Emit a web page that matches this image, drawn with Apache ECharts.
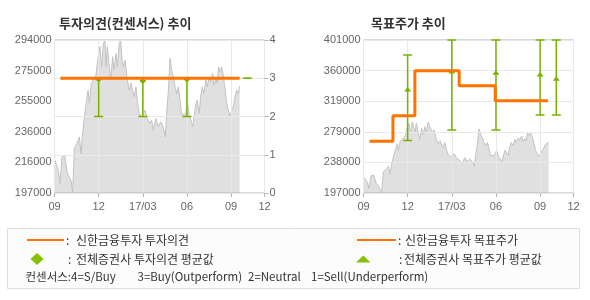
<!DOCTYPE html>
<html><head><meta charset="utf-8">
<script src="https://cdn.jsdelivr.net/npm/echarts@6/dist/echarts.min.js"></script>
<style>html,body{margin:0;padding:0;background:#fff}#c{width:590px;height:300px}</style>
</head><body><div id="c"></div>
<script>
// ---- x axis: months since 2016-09 ----
const xTickMonths = [0, 3, 6, 9, 12, 14.27];
const xTickLabels = ['09', '12', '17/03', '06', '09', '12'];

// ---- stock price (same series in both panels) ----
const priceMonth = [0.03,0.26,0.37,0.51,0.69,0.87,1.01,1.12,1.23,1.35,1.51,1.69,1.80,1.91,2.09,2.28,2.37,2.50,2.64,2.82,2.98,3.09,3.20,3.32,3.43,3.50,3.59,3.72,3.82,3.95,4.04,4.18,4.27,4.40,4.50,4.59,4.68,4.79,4.95,5.08,5.20,5.31,5.40,5.54,5.65,5.76,5.92,6.15,6.31,6.49,6.60,6.72,6.88,7.05,7.21,7.39,7.53,7.62,7.74,7.85,7.96,8.08,8.19,8.31,8.42,8.53,8.64,8.75,8.91,9.05,9.16,9.25,9.39,9.48,9.61,9.70,9.84,9.93,10.04,10.16,10.29,10.38,10.52,10.61,10.74,10.84,10.97,11.06,11.15,11.24,11.36,11.47,11.58,11.70,11.81,11.92,12.03,12.15,12.27,12.38,12.50,12.58];
const priceValue = [217800,211400,203000,219900,220900,209300,207000,205000,197600,225200,228300,232600,222000,234800,249500,262200,253800,266500,268600,271800,284500,289800,277000,291900,294000,277000,289800,277000,268600,283400,275000,285500,277000,291900,294000,281300,277000,281300,268600,262200,266500,265400,258000,264300,253800,247400,245300,249500,244200,241000,243100,236800,244200,239000,242100,239000,232600,247400,262200,282400,275000,270700,264300,260100,264300,255900,246300,245300,247400,253800,246300,244200,239000,245300,253800,255900,247400,258000,264300,260100,268600,264300,270700,267500,272800,265400,269600,266500,277000,273900,277000,271800,263300,253800,249500,245300,249500,251700,258000,262200,260100,264800];

// ---- left panel: opinion (1..4) ----
const leftPriceTicks = [197000, 216400, 235800, 255200, 274600, 294000];
const opinionMonth = [0.4, 12.58];
const opinionValue = [3, 3];
const consMonth = [3, 6, 9, 13.1];
const consMin = [2, 2, 2, 3];
const consMax = [2.97, 2.93, 2.97, 3];
const consAvg = [2.97, 2.93, 2.97, null];

// ---- right panel: target price ----
const rightPriceTicks = [197000, 237800, 278600, 319400, 360200, 401000];
const targetMonth = [0.41, 2.0, 3.49, 6.5, 8.95, 12.53];
const targetValue = [266000, 300000, 360000, 340000, 320000, 320000];
const tpMonth = [3, 6, 9, 12, 13.1];
const tpMin = [267000, 281000, 281000, 301000, 301000];
const tpMax = [381000, 401000, 401000, 401000, 401000];
const tpAvg = [335000, 359000, 357500, 355000, 349500];

const ORANGE = '#ff7300', GREEN = '#74b300', AXIS = '#b4b4b4', GRIDC = '#e9e9e9';
const LBL = {color:'#666', fontSize:11, fontFamily:'Liberation Sans, Arial'};
const CJK = 'Noto Sans CJK KR';

const zip = (a, b) => a.map((v, i) => [v, b[i]]);
const price = zip(priceMonth, priceValue);

function xAxisFor(gi) {
  return {
    gridIndex: gi, type: 'value', min: 0, max: xTickMonths[xTickMonths.length - 1], interval: 3, z: 3,
    axisLine: {show: false},
    axisTick: {show: true, length: 4, lineStyle: {color: AXIS}},
    axisLabel: Object.assign({}, LBL, {margin: 8, showMinLabel: true, showMaxLabel: true,
      formatter: v => { const i = xTickMonths.findIndex(m => Math.abs(m - v) < 0.01); return i < 0 ? '' : xTickLabels[i]; }}),
    splitLine: {show: true, lineStyle: {color: GRIDC, width: 1}}
  };
}

function errRender(capLo, capHi, marker) {
  return function (params, api) {
    const x = api.value(0), lo = api.value(1), hi = api.value(2), avg = api.value(3);
    const a = api.coord([x, lo]), b = api.coord([x, hi]);
    const st = {stroke: GREEN, lineWidth: 1.5};
    const ch = [
      {type: 'line', shape: {x1: a[0], y1: a[1], x2: b[0], y2: b[1]}, style: st},
      {type: 'line', shape: {x1: a[0] - capLo / 2, y1: a[1], x2: a[0] + capLo / 2, y2: a[1]}, style: st},
      {type: 'line', shape: {x1: b[0] - capHi / 2, y1: b[1], x2: b[0] + capHi / 2, y2: b[1]}, style: st}
    ];
    if (avg != null && !isNaN(avg)) {
      const p = api.coord([x, avg]);
      const pts = marker === 'diamond'
        ? [[p[0], p[1] - 3], [p[0] + 3, p[1]], [p[0], p[1] + 3], [p[0] - 3, p[1]]]
        : [[p[0] - 3.5, p[1] + 2], [p[0] + 3.5, p[1] + 2], [p[0], p[1] - 2.5]];
      ch.push({type: 'polygon', shape: {points: pts}, style: {fill: GREEN}});
    }
    return {type: 'group', children: ch};
  };
}

const chart = echarts.init(document.getElementById('c'), null, {renderer: 'canvas'});

const legendItems = [
  {type: 'rect', shape: {x: 7.5, y: 228.5, width: 572, height: 60}, style: {fill: '#fcfcfc', stroke: '#dddddd', lineWidth: 1}},
  {type: 'line', shape: {x1: 27, y1: 240, x2: 64, y2: 240}, style: {stroke: ORANGE, lineWidth: 2}},
  {type: 'polygon', shape: {points: [[37, 253], [43.5, 259], [37, 265], [30.5, 259]]}, style: {fill: '#84c200'}},
  {type: 'line', shape: {x1: 357, y1: 240, x2: 396, y2: 240}, style: {stroke: ORANGE, lineWidth: 2}},
  {type: 'polygon', shape: {points: [[356, 262.5], [370.5, 262.5], [363.3, 255.5]]}, style: {fill: '#84c200'}}
];
const legendTexts = [
  [66, 240, ':', 12], [76, 240, '신한금융투자 투자의견', 12],
  [68, 259, ':', 12], [76, 259, '전체증권사 투자의견 평균값', 12],
  [398, 240, ':', 12], [405, 240, '신한금융투자 목표주가', 12],
  [399, 259, ':', 12], [404, 259, '전체증권사 목표주가 평균값', 12],
  [25.5, 277, '컨센서스:4=S/Buy', 11.5], [137.5, 277, '3=Buy(Outperform)', 11.5],
  [248, 277, '2=Neutral', 11.5], [311, 277, '1=Sell(Underperform)', 11.5]
];
legendTexts.forEach(t => legendItems.push({type: 'text', x: t[0], y: t[1],
  style: {text: t[2], fill: '#333', font: t[3] + 'px "' + CJK + '"', textVerticalAlign: 'middle', verticalAlign: 'middle'}}));

chart.setOption({
  animation: false,
  backgroundColor: '#fff',
  title: [
    {text: '투자의견(컨센서스) 추이', left: 54, top: 12, textStyle: {fontSize: 13, fontWeight: 'bold', color: '#333', fontFamily: CJK}},
    {text: '목표주가 추이', left: 366, top: 12, textStyle: {fontSize: 13, fontWeight: 'bold', color: '#333', fontFamily: CJK}}
  ],
  grid: [
    {left: 54.5, top: 40, width: 210, height: 153, show: true, borderColor: AXIS, borderWidth: 1, backgroundColor: 'transparent', z: 3},
    {left: 363.5, top: 40, width: 210, height: 153, show: true, borderColor: AXIS, borderWidth: 1, backgroundColor: 'transparent', z: 3}
  ],
  xAxis: [xAxisFor(0), xAxisFor(1)],
  yAxis: [
    {gridIndex: 0, type: 'value', min: 197000, max: 294000, z: 3, axisLine: {show: false}, axisTick: {show: false},
      axisLabel: Object.assign({}, LBL, {margin: 3, customValues: leftPriceTicks, formatter: v => String(Math.round(v / 1000) * 1000)}),
      splitLine: {show: false}},
    {gridIndex: 0, type: 'value', position: 'right', min: 0, max: 4, interval: 1, z: 3,
      axisLine: {show: false}, axisTick: {show: true, length: 4, lineStyle: {color: AXIS}},
      axisLabel: Object.assign({}, LBL, {margin: 5}),
      splitLine: {show: true, lineStyle: {color: GRIDC, width: 1}}},
    {gridIndex: 1, type: 'value', min: 197000, max: 401000, z: 3, axisLine: {show: false},
      axisTick: {show: false, customValues: rightPriceTicks},
      axisLabel: Object.assign({}, LBL, {margin: 3, customValues: rightPriceTicks, formatter: v => String(Math.round(v / 1000) * 1000)}),
      splitLine: {show: true, lineStyle: {color: GRIDC, width: 1}}}
  ],
  series: [
    {type: 'line', xAxisIndex: 0, yAxisIndex: 0, data: price, symbol: 'none', z: 1,
      lineStyle: {color: '#c2c2c2', width: 1}, areaStyle: {color: '#e0e0e0', origin: 'start', opacity: 1}},
    {type: 'line', xAxisIndex: 1, yAxisIndex: 2, data: price, symbol: 'none', z: 1,
      lineStyle: {color: '#c2c2c2', width: 1}, areaStyle: {color: '#e0e0e0', origin: 'start', opacity: 1}},
    {type: 'custom', xAxisIndex: 0, yAxisIndex: 1, z: 5, clip: false,
      renderItem: errRender(9, 6, 'diamond'),
      data: consMonth.map((m, i) => [m, consMin[i], consMax[i], consAvg[i] == null ? '-' : consAvg[i]])},
    {type: 'line', xAxisIndex: 0, yAxisIndex: 1, data: zip(opinionMonth, opinionValue), symbol: 'none', z: 6,
      lineStyle: {color: ORANGE, width: 3}},
    {type: 'custom', xAxisIndex: 1, yAxisIndex: 2, z: 5, clip: false,
      renderItem: errRender(9, 9, 'triangle'),
      data: tpMonth.map((m, i) => [m, tpMin[i], tpMax[i], tpAvg[i]])},
    {type: 'line', xAxisIndex: 1, yAxisIndex: 2, data: zip(targetMonth, targetValue), symbol: 'none', step: 'end', z: 6,
      lineStyle: {color: ORANGE, width: 3}}
  ],
  graphic: legendItems
});
</script>
</body></html>
